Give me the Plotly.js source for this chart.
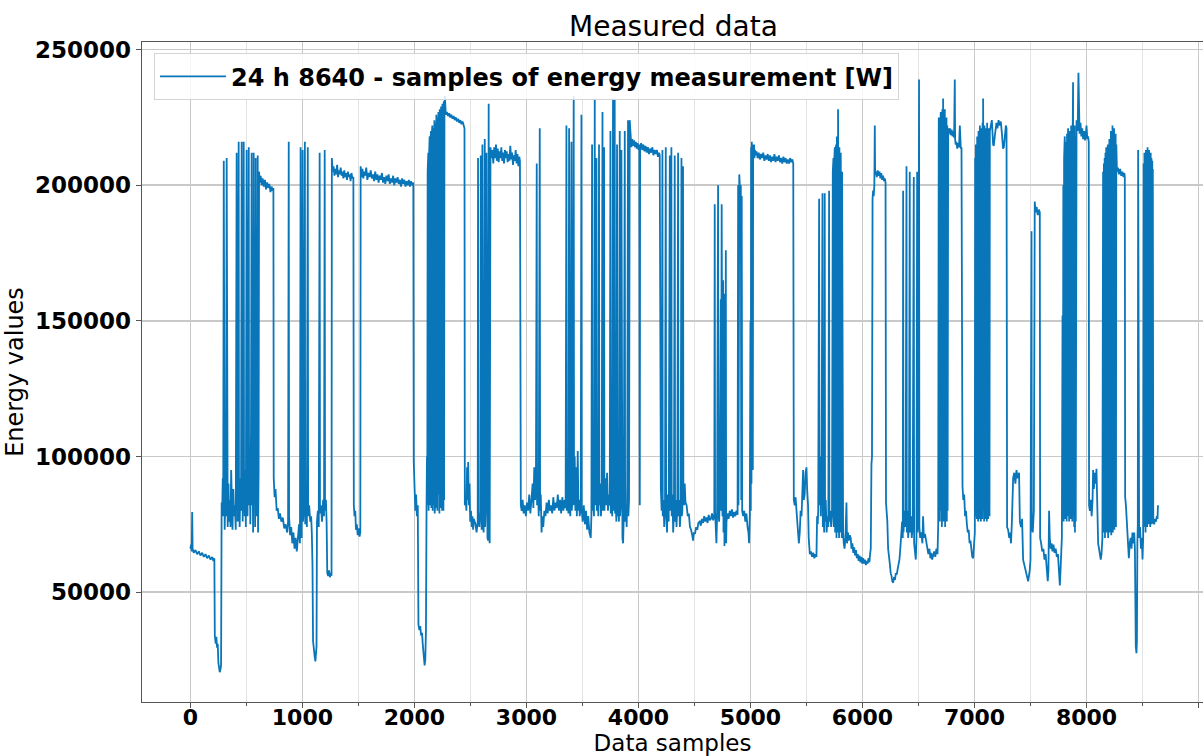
<!DOCTYPE html>
<html>
<head>
<meta charset="utf-8">
<script src="https://cdn.plot.ly/plotly-3.0.1.min.js"></script>
<style>
  html, body { margin: 0; padding: 0; background: #ffffff; }
  #chart { width: 1203px; height: 756px; }
</style>
</head>
<body>
<div id="chart"></div>
<script>
// ---- Data: [sample index, energy value] ----
const samples0to1000 = [
  [0,66000],[6,67500],[12,65000],[16,79500],[20,66000],[30,64500],[45,65500],[60,64000],[75,65000],[90,63500],
  [105,64500],[120,63000],[135,64000],[150,62500],[165,63500],[180,62000],[195,63000],[205,61500],[214,62500],
  [218,34000],[226,31000],[232,33500],[238,29500],[244,31000],[250,24000],[256,22000],[262,20500],[268,21500],[274,23000],
  [279,83000],[284,80000],[289,92000],[293,78000],
  [298,209000],[301,80000],[306,73000],[312,85000],[318,78000],[324,210000],[327,82000],[333,74000],[340,90000],[346,76000],
  [352,84000],[358,74000],[364,95000],[370,80000],[376,73000],[383,88000],[390,78000],[398,82000],[405,73000],
  [413,212000],[416,80000],[422,76000],[427,100000],[431,216000],[434,82000],[440,74000],[446,92000],[452,80000],
  [458,216000],[461,85000],[467,76000],[472,105000],[476,216000],[479,88000],[485,78000],[490,95000],[495,74000],
  [502,213000],[505,90000],[510,78000],[516,108000],[521,214000],[524,82000],[530,100000],[535,75000],[541,110000],
  [547,212000],[550,82000],[555,96000],[560,72000],[565,212000],[568,85000],[573,104000],[578,74000],[583,210000],
  [586,88000],[591,78000],[596,100000],[601,211000],[604,72000],[609,95000],
  [613,205000],[620,201000],[628,203500],[636,200000],[645,202500],[655,199500],[665,202000],[675,198500],[685,201000],
  [695,199000],[705,200500],[715,197500],[725,199500],[735,198000],[741,199000],
  [744,92000],[752,85000],[760,88000],[770,80000],[780,81000],[790,77000],[800,79000],[812,76000],[825,77500],[838,73500],
  [850,75000],[864,72000],[872,76000],[878,216000],[881,78000],[890,71000],[900,74000],[910,68000],[920,72000],[930,66000],
  [940,70000],[950,65000],[960,70000],[970,75000],[978,68000],[984,214000],[987,72000],[993,70000]
];
const samples1000to2000 = [
  [1002,213000],[1005,76000],[1012,80000],[1022,216000],[1025,75000],[1032,82000],[1040,74000],[1048,214000],[1051,78000],
  [1060,82000],[1070,76000],[1078,78000],
  [1084,72000],[1090,60000],[1095,32000],[1102,28000],[1110,26000],[1116,24500],[1121,27000],[1126,30000],[1130,76000],
  [1138,80000],[1146,74000],[1154,212000],[1157,79000],[1165,82000],[1175,76000],[1185,84000],[1193,78000],[1199,213000],
  [1202,80000],[1210,84000],[1216,76000],[1222,57000],[1230,56000],[1238,58000],[1246,55500],[1254,57000],[1260,56000],
  [1263,210000],[1270,205000],[1278,207000],[1286,203500],[1294,206000],[1302,204000],[1310,207500],[1318,203000],
  [1326,205500],[1334,204000],[1342,206500],[1350,203500],[1358,205000],[1366,202500],[1374,205500],[1382,203000],
  [1390,204500],[1398,202000],[1406,205000],[1414,203000],[1422,204000],[1430,201500],[1438,204500],[1446,202500],[1455,203000],
  [1459,82000],[1465,78000],[1472,80000],[1478,73000],[1486,75000],[1494,71000],[1502,73500],[1510,70500],[1517,72000],
  [1520,207000],[1528,203000],[1536,206000],[1544,202500],[1552,205000],[1560,203500],[1570,206500],[1580,202000],
  [1590,204500],[1600,203000],[1610,205500],[1620,202500],[1630,204000],[1640,201500],[1650,205000],[1660,202000],
  [1670,204000],[1680,201000],[1690,203500],[1700,202000],[1710,204500],[1720,201000],[1730,203000],[1740,200500],
  [1750,203500],[1760,201500],[1770,204000],[1780,200500],[1790,202500],[1800,201000],[1810,203500],[1820,200000],
  [1830,202500],[1840,201000],[1850,203000],[1860,200500],[1870,202000],[1880,199500],[1890,202500],[1900,200500],
  [1910,202000],[1920,199500],[1930,201500],[1940,200000],[1950,202000],[1960,199500],[1970,201500],[1980,200000],[1990,201000]
];
const samples2000to3000 = [
  [1994,98000],[2000,84000],[2008,80000],[2015,86000],[2022,78000],[2030,82000],[2036,38000],[2044,36000],[2052,37500],
  [2060,34000],[2068,35000],[2074,31000],[2080,27000],[2086,24000],[2091,23000],[2097,25000],[2103,36000],[2108,80000],
  [2112,100000],[2115,82000],[2118,205000],[2121,84000],[2124,212000],[2127,80000],[2130,210000],[2133,86000],[2136,218000],
  [2139,82000],[2142,215000],[2145,88000],[2148,220000],[2151,81000],[2154,218000],[2157,84000],[2160,222000],[2163,80000],
  [2166,219000],[2169,86000],[2172,221000],[2175,82000],[2178,224000],[2181,79000],[2184,220000],[2187,85000],[2190,223000],
  [2193,81000],[2196,226000],[2199,84000],[2202,222000],[2205,80000],[2208,225000],[2211,86000],[2214,227000],[2217,82000],
  [2220,224000],[2223,79000],[2226,228000],[2229,84000],[2232,225000],[2235,81000],[2238,229000],[2241,85000],[2244,226000],
  [2247,80000],[2250,230000],[2253,83000],[2256,227000],[2259,80000],[2262,231000],[2265,84000],[2268,228000],[2272,233000],
  [2280,226000],[2290,227000],[2300,225500],[2310,226500],[2320,225000],[2330,226000],[2340,224500],[2350,225500],
  [2360,224000],[2370,225000],[2380,223500],[2390,224500],[2400,223000],[2410,224000],[2420,222500],[2430,223500],
  [2440,222000],[2447,221000],
  [2450,82000],[2458,85000],[2464,80000],[2470,96000],[2475,84000],[2480,98000],[2486,82000],[2492,90000],[2498,76000],
  [2505,80000],[2512,74000],[2518,78000],[2524,73000],[2530,77000],[2545,75000],[2555,72000],[2565,76000],
  [2568,210000],[2571,78000],[2580,74000],[2589,80000],[2592,211000],[2595,76000],[2600,73000],[2607,215000],[2610,75000],
  [2618,72000],[2628,217000],[2631,74000],[2636,80000],[2643,212000],[2646,72000],[2652,70000],[2658,69000],[2663,230000],
  [2666,72000],[2672,68000],[2679,214000],
  [2688,210000],[2696,213000],[2704,208000],[2712,214000],[2720,210000],[2728,215000],[2736,209000],[2744,213500],
  [2752,208500],[2760,212500],[2768,210000],[2776,214000],[2784,209000],[2792,212000],[2800,208000],[2808,213000],
  [2816,210000],[2824,212500],[2832,208500],[2840,211500],[2848,209000],[2856,214500],[2864,209500],[2872,212000],
  [2880,207500],[2888,211000],[2896,209000],[2904,213000],[2912,208000],[2920,211500],[2928,207000],[2936,210500],[2942,209000],
  [2950,82000],[2958,80000],[2966,84000],[2975,79000],[2985,82000],[2995,78000]
];
const samples3000to4000 = [
  [3005,83000],[3015,80000],[3025,86000],[3035,79000],[3045,84000],[3055,90000],[3062,81000],[3070,96000],[3078,84000],
  [3085,92000],[3092,208000],[3095,82000],[3102,90000],[3110,78000],[3119,221000],[3122,80000],[3128,86000],[3135,72000],
  [3142,78000],[3150,74000],[3160,80000],[3170,78000],[3180,83000],[3190,79000],[3200,84000],[3210,80000],[3220,82000],
  [3230,79000],[3240,85000],[3250,80000],[3260,83000],[3270,81000],[3280,86000],[3290,80000],[3300,84000],[3310,79000],
  [3320,85000],[3330,80000],[3340,84000],[3350,81000],
  [3357,222000],[3360,80000],[3368,84000],[3375,79000],[3381,221000],[3384,82000],[3392,78000],[3402,216000],[3405,80000],
  [3412,85000],[3422,233000],[3425,82000],[3431,100000],[3437,80000],[3444,96000],[3450,78000],[3458,102000],[3464,80000],
  [3470,84000],[3476,78000],[3485,82000],[3491,226000],[3494,80000],[3502,76000],[3512,82000],[3522,75000],[3532,80000],
  [3542,73000],[3552,78000],[3562,72000],[3574,70000],[3580,78000],[3586,215000],[3589,80000],[3596,84000],[3603,78000],
  [3610,232000],[3613,82000],[3618,92000],[3625,210000],[3628,80000],[3636,86000],[3642,78000],[3648,215000],[3651,82000],
  [3658,90000],[3665,78000],[3672,84000],[3679,227000],[3682,80000],[3688,88000],[3693,214000],[3696,80000],[3704,92000],
  [3712,82000],[3720,94000],[3728,80000],[3736,86000],[3744,82000],[3750,220000],[3753,79000],[3760,86000],[3766,78000],
  [3773,232000],[3776,80000],[3781,84000],[3788,232000],[3791,79000],[3798,82000],[3803,76000],[3809,215000],[3812,78000],
  [3818,84000],[3826,76000],[3833,220000],[3836,78000],[3842,82000],[3848,213000],[3851,74000],[3857,70000],[3863,68000],
  [3869,78000],[3878,220000],[3881,76000],[3888,82000],[3895,74000],[3900,90000],[3907,224000],[3910,78000],[3916,84000],
  [3922,224000],[3930,216000],[3937,214000],[3945,217000],[3953,214500],[3961,216500],[3969,214000],[3977,216000],
  [3985,213500],[3993,215500]
];
const samples4000to5000 = [
  [4001,213000],[4008,215000],[4012,82000],[4015,214000],[4024,215500],[4034,213000],[4044,215000],[4054,212500],
  [4064,214500],[4074,212000],[4084,214000],[4094,211500],[4104,213500],[4114,212000],[4124,214000],[4134,211000],
  [4144,213000],[4154,211500],[4164,213000],[4174,210500],[4184,212000],[4190,211000],
  [4194,98000],[4200,88000],[4207,80000],[4214,213000],[4217,78000],[4224,84000],[4230,74000],[4237,82000],[4244,214000],
  [4247,80000],[4255,72000],[4262,86000],[4270,76000],[4280,211000],[4283,80000],[4288,84000],[4294,214000],[4297,78000],
  [4304,86000],[4310,72000],[4317,80000],[4324,211000],[4327,76000],[4334,84000],[4340,74000],[4347,82000],[4354,212000],
  [4357,78000],[4364,84000],[4370,74000],[4377,80000],[4384,210000],[4387,78000],[4392,80000],[4398,207000],[4401,88000],
  [4408,82000],[4413,90000],[4420,83000],[4430,82000],[4440,78000],[4450,79000],[4460,74000],[4470,73000],[4480,71000],
  [4488,69000],[4495,72000],[4505,71500],[4515,74000],[4525,73000],[4535,75500],[4547,76000],[4557,74500],[4567,77000],
  [4577,75500],[4587,78000],[4597,76000],[4607,77500],[4617,75500],[4627,78500],[4637,76500],[4647,77000],[4657,79000],
  [4667,76500],[4677,78500],[4681,193000],[4684,80000],[4690,74000],[4696,68000],[4702,78000],[4711,200000],[4714,80000],
  [4720,76000],[4726,84000],[4735,158000],[4738,80000],[4743,193000],[4746,150000],[4750,78000],[4756,165000],[4759,72000],
  [4764,155000],[4768,67000],[4772,160000],[4776,70000],[4780,176000],[4783,68000],[4786,76000],[4795,79000],[4805,77000],
  [4815,80000],[4825,78000],[4835,80500],[4845,77500],[4855,79500],[4865,78000],[4875,80000],[4885,78500],[4890,200000],
  [4893,82000],[4900,204000],[4906,198000],[4910,196000],[4914,200000],[4918,84000],[4922,196000],[4926,80000],[4934,78000],
  [4944,80000],[4954,76000],[4964,79000],[4974,74000],[4982,72000],[4988,68000],[4994,78000]
];
const samples5000to6000 = [
  [5000,150000],[5003,80000],[5006,214000],[5009,90000],[5012,216000],[5015,110000],[5018,215000],[5021,95000],[5024,214000],
  [5028,212000],[5032,215000],[5036,210000],[5040,213000],[5046,211000],[5054,212500],[5064,210000],[5074,212000],
  [5084,209500],[5094,211500],[5104,210000],[5114,212000],[5124,209000],[5134,211000],[5144,209500],[5154,211500],
  [5164,209000],[5174,211000],[5184,208500],[5194,210500],[5204,209000],[5214,211500],[5224,208500],[5234,210500],
  [5244,209000],[5254,211000],[5264,208500],[5274,210000],[5284,208000],[5294,210500],[5304,208500],[5314,210000],
  [5324,208000],[5334,209500],[5344,208000],[5354,210000],[5364,208500],[5374,209500],[5382,208000],
  [5387,84000],[5395,82000],[5403,85000],[5411,80000],[5418,76000],[5425,70000],[5432,68000],[5440,72000],[5448,80000],
  [5456,78000],[5464,88000],[5470,95000],[5476,84000],[5484,86000],[5492,94000],[5500,96000],[5506,88000],[5514,82000],
  [5520,70000],[5530,64000],[5540,65000],[5550,63000],[5560,64500],[5570,62500],[5580,64000],[5589,63000],[5595,78000],
  [5600,75000],[5605,80000],[5613,195000],[5616,82000],[5622,100000],[5628,78000],[5635,95000],[5643,197000],[5646,74000],
  [5652,80000],[5658,72000],[5663,197000],[5666,76000],[5672,84000],[5680,72000],[5688,78000],[5695,74000],[5702,198000],
  [5705,76000],[5712,80000],[5720,74000],[5728,78000],
  [5735,205000],[5738,76000],[5741,210000],[5744,74000],[5747,208000],[5750,78000],[5753,214000],[5756,72000],[5759,212000],
  [5762,76000],[5765,215000],[5768,70000],[5771,218000],[5774,74000],[5777,213000],[5780,72000],[5782,228000],[5785,76000],
  [5788,216000],[5791,70000],[5794,214000],[5797,74000],[5800,210000],[5803,72000],[5806,212000],[5809,76000],[5812,208000],
  [5815,70000],[5818,205000],[5821,74000],[5824,200000],[5827,72000],
  [5833,68000],[5840,66000],[5848,70000],[5857,83000],[5862,68000],[5870,72000],[5878,69000],[5887,71000],[5895,70000],
  [5902,66000],[5910,68000],[5918,64500],[5926,66500],[5934,63500],[5942,65500],[5950,62500],[5958,64000],[5966,61500],
  [5974,63500],[5982,61000],[5990,63000],[5998,60500]
];
const samples6000to7000 = [
  [6006,62500],[6014,60500],[6022,62000],[6030,60000],[6038,61500],[6046,60500],[6054,62500],[6062,61000],[6068,64000],
  [6074,66000],[6080,97000],[6085,100000],[6090,195000],[6095,198000],[6100,196000],[6106,200000],[6110,222000],[6113,204000],
  [6120,205000],[6128,203000],[6136,205500],[6144,203500],[6152,205000],[6160,202500],[6168,204500],[6176,202000],
  [6184,203500],[6192,201500],[6200,202500],[6206,201000],
  [6210,83000],[6216,80000],[6222,76000],[6229,66000],[6236,62000],[6244,60500],[6252,57000],[6259,56000],[6266,54000],
  [6274,53500],[6282,55500],[6290,54500],[6298,57000],[6306,56500],[6314,58500],[6322,60000],[6330,62000],[6336,65000],
  [6342,70000],[6348,72000],[6354,76000],[6360,70000],[6363,198000],[6366,72000],[6372,76000],[6378,80000],[6385,74000],
  [6393,207000],[6396,72000],[6402,80000],[6408,70000],[6415,76000],[6422,205000],[6425,72000],[6432,78000],[6440,70000],
  [6448,74000],[6458,203000],[6461,68000],[6468,64000],[6476,62000],[6482,70000],[6488,205000],[6491,72000],[6498,76000],
  [6505,239000],[6508,74000],[6515,70000],[6525,72000],[6535,68000],[6541,78000],[6548,70000],[6558,71500],[6568,69000],
  [6578,67000],[6588,64000],[6598,66000],[6606,62500],[6614,64500],[6622,62000],[6631,63500],[6640,65000],[6650,63000],
  [6660,66000],[6670,64000],[6676,75000],
  [6681,225000],[6684,78000],[6688,220000],[6691,76000],[6695,222000],[6699,227000],[6702,80000],[6706,224000],[6709,74000],
  [6713,228000],[6716,78000],[6720,232000],[6723,76000],[6727,226000],[6730,80000],[6735,228000],[6738,74000],[6742,224000],
  [6746,78000],[6750,225000],[6753,76000],[6757,222000],[6760,80000],[6765,221000],
  [6772,219000],[6780,221000],[6788,218500],[6796,220500],[6804,218000],[6812,220000],[6818,217500],[6824,239000],
  [6827,217000],[6832,215000],[6839,216000],[6846,213500],[6854,215500],[6862,214000],[6869,222000],[6872,215000],
  [6878,213500],[6884,214000],
  [6887,95000],[6893,89000],[6900,84000],[6908,86000],[6916,78000],[6924,80000],[6932,75000],[6940,72000],[6948,73000],
  [6956,68000],[6964,69000],[6972,66000],[6980,63000],[6988,62500],[6996,66000]
];
const samples7000to8000 = [
  [7003,72000],[7006,210000],[7009,78000],[7012,215000],[7015,80000],[7018,212000],[7021,77000],[7024,218000],[7027,80000],
  [7030,214000],[7033,76000],[7036,220000],[7039,79000],[7042,216000],[7045,77000],[7048,222000],[7051,80000],[7054,218000],
  [7057,76000],[7060,221000],[7063,79000],[7066,217000],[7069,77000],[7072,223000],[7075,80000],[7077,232000],[7080,78000],
  [7083,219000],[7086,76000],[7089,222000],[7092,79000],[7095,218000],[7098,77000],[7101,221000],[7104,80000],[7107,217000],
  [7110,76000],[7113,223000],[7116,79000],[7119,219000],[7122,77000],[7125,221000],[7128,80000],[7131,218000],[7134,78000],
  [7137,220000],[7145,222000],[7155,224000],[7166,215000],[7172,214500],[7181,218000],[7190,222000],[7196,223000],
  [7205,221000],[7215,224000],[7225,222000],[7235,223500],[7245,219000],[7255,213500],[7262,214000],[7270,218000],
  [7280,222000],[7286,221000],
  [7291,74000],[7300,73000],[7310,70000],[7318,72000],[7326,68000],[7334,76000],[7345,92000],[7355,94000],[7365,90000],
  [7375,95000],[7385,92000],[7398,94000],[7405,76000],[7415,74000],[7425,77000],[7434,62000],[7444,60000],[7454,58000],
  [7464,57000],[7472,55500],[7479,54000],[7486,56000],[7493,58000],[7500,62000],[7509,183000],[7512,74000],[7520,72000],
  [7530,80000],[7538,194000],[7545,190000],[7555,192000],[7565,189000],[7575,191000],[7583,190000],
  [7586,70000],[7595,68000],[7605,65000],[7615,66000],[7625,62000],[7635,64000],[7645,60000],[7654,54000],[7660,58000],
  [7666,80000],[7672,70000],[7680,66000],[7688,68000],[7696,65000],[7705,67500],[7715,64500],[7725,66000],[7735,63000],
  [7745,64000],[7752,58000],[7758,54000],[7762,52500],[7768,58000],[7775,64000],[7780,70000],
  [7786,152000],[7789,78000],[7793,200000],[7796,76000],[7800,210000],[7803,80000],[7806,218000],[7809,77000],[7813,212000],
  [7816,79000],[7820,216000],[7823,76000],[7826,219000],[7829,80000],[7832,215000],[7836,221000],[7839,78000],[7842,218000],
  [7845,76000],[7849,220000],[7852,79000],[7856,217000],[7859,77000],[7863,222000],[7866,80000],[7870,219000],[7873,76000],
  [7877,221000],[7880,238000],[7883,78000],[7887,220000],[7890,74000],[7894,222000],[7897,72000],[7901,218000],[7904,76000],
  [7908,221000],[7911,224000],[7915,222000],[7921,220000],[7928,241500],[7931,222000],[7938,219000],[7946,223000],
  [7954,218000],[7962,221000],[7970,217000],[7978,220000],[7986,216500],[7994,219000]
];
const samples8000to8640 = [
  [8000,222000],[8007,217000],[8014,218000],[8020,216000],
  [8023,82000],[8030,80000],[8038,84000],[8046,78000],[8054,84000],[8059,95000],[8066,88000],[8074,94000],[8082,90000],
  [8089,95500],[8096,78000],[8104,68000],[8112,66000],[8119,63000],[8127,62000],[8134,64000],[8142,70000],
  [8148,205000],[8151,72000],[8155,208000],[8158,74000],[8162,210000],[8165,70000],[8169,212000],[8172,76000],[8176,214000],
  [8179,72000],[8183,210000],[8186,74000],[8190,215000],[8193,70000],[8197,212000],[8200,76000],[8204,217000],[8207,72000],
  [8211,214000],[8214,75000],[8218,220000],[8221,71000],[8225,216000],[8228,76000],[8232,222000],[8235,72000],[8239,218000],
  [8242,75000],[8246,221000],[8249,73000],[8253,217000],[8256,76000],[8260,219000],[8263,74000],[8266,215000],
  [8272,205000],[8280,206500],[8290,204000],[8300,206000],[8310,203500],[8320,205000],[8330,203000],[8338,204500],[8342,203000],
  [8345,85000],[8352,82000],[8360,75000],[8368,72000],[8378,62500],[8386,68000],[8394,70000],[8402,66000],[8410,72000],
  [8418,68000],[8426,72000],[8432,66000],[8436,45000],[8440,30000],[8446,27500],[8450,32000],[8454,68000],[8458,75000],
  [8461,213000],[8464,72000],[8470,70000],[8478,74000],[8486,66000],[8494,70000],[8500,62000],[8506,70000],
  [8510,208000],[8513,74000],[8517,212000],[8520,76000],[8524,210000],[8527,72000],[8531,213000],[8534,78000],[8538,211000],
  [8541,74000],[8545,214000],[8548,77000],[8552,212000],[8555,75000],[8559,213000],[8562,78000],[8566,211000],[8569,74000],
  [8573,212000],[8576,77000],[8580,210000],[8583,75000],[8587,209000],[8590,77000],[8592,206000],
  [8596,76000],[8604,75000],[8612,77000],[8620,76000],[8628,78000],[8634,77000],[8638,82000]
];

const seriesName = '24 h 8640 - samples of energy measurement [W]';
const chartTitle = 'Measured data';
const xAxisTitle = 'Data samples';
const yAxisTitle = 'Energy values';

const allPoints = [].concat(samples0to1000, samples1000to2000, samples2000to3000, samples3000to4000,
  samples4000to5000, samples5000to6000, samples6000to7000, samples7000to8000, samples8000to8640);
const xs = allPoints.map(p => p[0]);
const ys = allPoints.map(p => p[1]);

const yTickFont = { family: 'DejaVu Sans', size: 23, color: '#000000', weight: 'bold' };
const xTickFont = { family: 'DejaVu Sans', size: 22, color: '#000000', weight: 'bold' };

const trace = {
  x: xs, y: ys, type: 'scatter', mode: 'lines', name: seriesName,
  line: { color: '#0a76ba', width: 1.8 }
};

const layout = {
  width: 1203, height: 756,
  margin: { l: 142, r: 0, t: 42, b: 54, pad: 0 },
  paper_bgcolor: '#ffffff', plot_bgcolor: '#ffffff',
  showlegend: true,
  title: { text: chartTitle, font: { family: 'DejaVu Sans', size: 28, color: '#000000' },
           x: 0.5598, xanchor: 'center', yref: 'container', y: 0.966, yanchor: 'middle' },
  xaxis: {
    range: [-432, 9040], dtick: 1000, tick0: 0,
    showgrid: true, gridcolor: '#c9c9c9', gridwidth: 1.5,
    minor: { dtick: 500, tick0: 0, showgrid: true, gridcolor: '#e3e3e3', gridwidth: 1.2, ticks: 'outside', ticklen: 3, tickcolor: '#555' },
    zeroline: false, showline: true, linecolor: '#555555', linewidth: 1.3, mirror: true,
    ticks: 'outside', ticklen: 5, tickcolor: '#555555', tickwidth: 1.2,
    ticklabelstandoff: -10,
    tickfont: xTickFont, automargin: false,
    title: { text: xAxisTitle, font: { family: 'DejaVu Sans', size: 23, color: '#000000' }, standoff: 0 }
  },
  yaxis: {
    range: [9500, 252800], dtick: 50000, tick0: 0, tickformat: 'd',
    showgrid: true, gridcolor: '#c9c9c9', gridwidth: 1.5,
    zeroline: false, showline: true, linecolor: '#555555', linewidth: 1.3,
    ticks: 'outside', ticklen: 5, tickcolor: '#555555', tickwidth: 1.2,
    tickfont: yTickFont, automargin: false,
    title: { text: yAxisTitle, font: { family: 'DejaVu Sans', size: 24, color: '#000000' }, standoff: 4 }
  },
  legend: {
    x: 0.0113, y: 0.983, xanchor: 'left', yanchor: 'top', itemwidth: 66,
    bgcolor: 'rgba(255,255,255,0.85)', bordercolor: '#d4d4d4', borderwidth: 1,
    font: { family: 'DejaVu Sans', size: 24, color: '#000000', weight: 'bold' }
  }
};

Plotly.newPlot('chart', [trace], layout, { displayModeBar: false, staticPlot: true });
</script>
</body>
</html>
